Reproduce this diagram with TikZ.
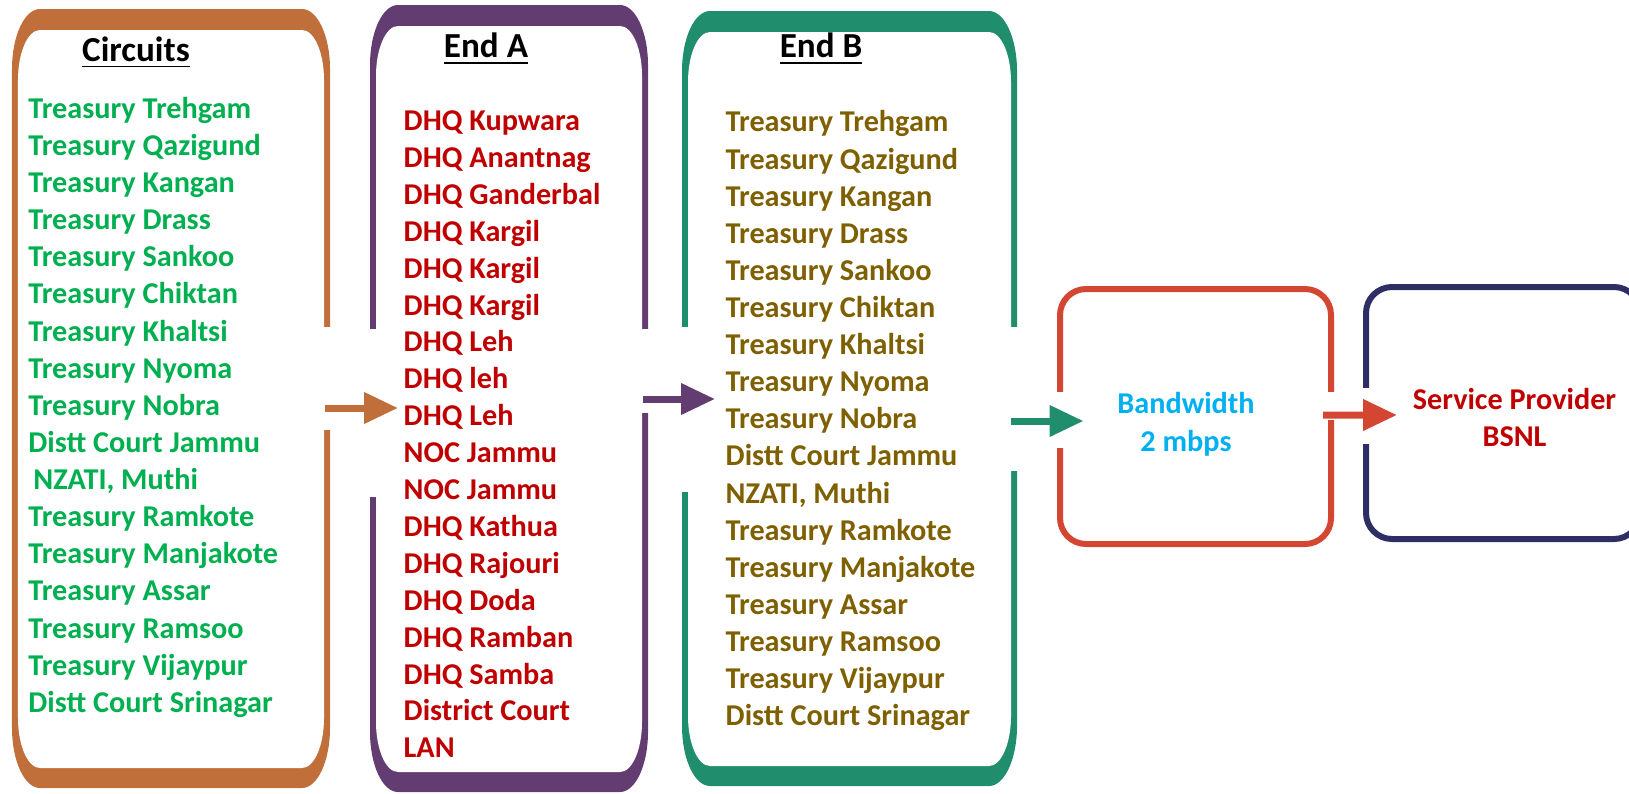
\documentclass[tikz,border=0pt]{standalone}
\usepackage{fontspec}
\setmainfont{Carlito}
\usetikzlibrary{arrows.meta,positioning,calc}
\definecolor{FrameOrange}{RGB}{192,110,58}
\definecolor{FramePurple}{RGB}{99,60,113}
\definecolor{FrameGreen}{RGB}{32,142,108}
\definecolor{FrameRed}{RGB}{210,70,50}
\definecolor{FrameNavy}{RGB}{46,46,100}
\definecolor{TextGreen}{RGB}{0,176,80}
\definecolor{TextRed}{RGB}{192,0,0}
\definecolor{TextOlive}{RGB}{127,96,0}
\definecolor{TextCyan}{RGB}{0,176,240}
\tikzset{
  tallbox/.style={inner sep=0pt,outer sep=0pt},
  boxtitle/.style={font=\fontsize{10}{12}\selectfont\bfseries,inner sep=0pt},
  itemlist/.style={inner sep=0pt,align=left,anchor=north west,
    font=\fontsize{8.6}{10.56}\selectfont\bfseries},
  smallbox/.style={draw,line width=0.6mm,rounded corners=2.6mm,inner sep=0pt,outer sep=0pt},
  boxtext/.style={inner sep=0pt,align=center,font=\fontsize{8.6}{10.8}\selectfont\bfseries},
  arrow/.style={line width=0.7mm,-{Triangle[length=3.4mm,width=3mm]}}
}
% thick framed box round a named node: #1 colour, #2 node
\newcommand{\roundframe}[2]{%
  \fill[#1] ([yshift=6mm]#2.south west) -- ([yshift=-6mm]#2.north west)
    arc[start angle=180,end angle=90,x radius=2.8mm,y radius=6mm]
    -- ([xshift=-2.8mm]#2.north east)
    arc[start angle=90,end angle=0,x radius=2.8mm,y radius=6mm]
    -- ([yshift=6mm]#2.south east)
    arc[start angle=0,end angle=-90,x radius=2.8mm,y radius=6mm]
    -- ([xshift=2.8mm]#2.south west)
    arc[start angle=270,end angle=180,x radius=2.8mm,y radius=6mm] -- cycle;
  \fill[white] ([shift={(0.6mm,7mm)}]#2.south west) -- ([shift={(0.6mm,-7.1mm)}]#2.north west)
    arc[start angle=180,end angle=90,x radius=2.2mm,y radius=5mm]
    -- ([shift={(-2.8mm,-2.1mm)}]#2.north east)
    arc[start angle=90,end angle=0,x radius=2.2mm,y radius=5mm]
    -- ([shift={(-0.6mm,7mm)}]#2.south east)
    arc[start angle=0,end angle=-90,x radius=2.2mm,y radius=5mm]
    -- ([shift={(2.8mm,2mm)}]#2.south west)
    arc[start angle=270,end angle=180,x radius=2.2mm,y radius=5mm] -- cycle;
}

\begin{document}
\begin{tikzpicture}[x=1mm,y=1mm]
  \useasboundingbox (0,0) rectangle (162.9,79.3);
  \node[tallbox,minimum width=31.8mm,minimum height=77.9mm] (circuits) at (17.1,39.45) {};
  \node[tallbox,minimum width=27.8mm,minimum height=78.7mm,right=4mm of circuits] (endA) {};
  \node[tallbox,minimum width=33.5mm,minimum height=77.5mm,right=3.4mm of endA] (endB) {};
  \roundframe{FrameOrange}{circuits}
  \roundframe{FramePurple}{endA}
  \roundframe{FrameGreen}{endB}

  \node[smallbox,draw=FrameRed,minimum width=27.1mm,minimum height=25.5mm,
    right=4.3mm of endB,yshift=-1.8mm] (bandwidth) {};
  \node[smallbox,draw=FrameNavy,minimum width=27.4mm,minimum height=25.2mm,
    right=3.5mm of bandwidth,yshift=0.35mm] (provider) {};

  % openings in the frames where the arrows pass
  \fill[white] (32.0,46.6) rectangle (33.3,36.3);
  \fill[white] (36.7,46.4) rectangle (38.3,29.6);
  \fill[white] (63.7,46.4) rectangle (65.1,38.0);
  \fill[white] (67.9,46.6) rectangle (69.5,30.1);
  \fill[white] (100.8,46.6) rectangle (102.0,32.2);
  \fill[white] (105.4,40.1) rectangle (106.7,34.5);
  \fill[white] (132.5,40.1) rectangle (133.8,37.3);
  \fill[white] (135.9,40.5) rectangle (137.3,34.9);

  \node[boxtitle] (circuitsT) at ([shift={(-3.5mm,-4.35mm)}]circuits.north) {\underline{Circuits}};
  \node[boxtitle] (endAT) at ([shift={(-2.3mm,-4.4mm)}]endA.north) {\underline{End A}};
  \node[boxtitle] (endBT) at ([shift={(-2.85mm,-3.8mm)}]endB.north) {\underline{End B}};

  \node[itemlist,text=TextGreen] (circuitsL) at ([shift={(1.57mm,-8.75mm)}]circuits.north west)
    {Treasury Trehgam\\Treasury Qazigund\\Treasury Kangan\\Treasury Drass\\Treasury Sankoo\\
     Treasury Chiktan\\Treasury Khaltsi\\Treasury Nyoma\\Treasury Nobra\\Distt Court Jammu\\
     \hspace*{0.5mm}NZATI, Muthi\\Treasury Ramkote\\Treasury Manjakote\\Treasury Assar\\
     Treasury Ramsoo\\Treasury Vijaypur\\Distt Court Srinagar};
  \node[itemlist,text=TextRed,font=\fontsize{8.6}{10.5}\selectfont\bfseries] (endAL)
    at ([shift={(3.3mm,-10.5mm)}]endA.north west)
    {DHQ Kupwara\\DHQ Anantnag\\DHQ Ganderbal\\DHQ Kargil\\DHQ Kargil\\DHQ Kargil\\
     DHQ Leh\\DHQ leh\\DHQ Leh\\NOC Jammu\\NOC Jammu\\DHQ Kathua\\DHQ Rajouri\\
     DHQ Doda\\DHQ Ramban\\DHQ Samba\\District Court\\LAN};
  \node[itemlist,text=TextOlive] (endBL) at ([shift={(4.3mm,-9.9mm)}]endB.north west)
    {Treasury Trehgam\\Treasury Qazigund\\Treasury Kangan\\Treasury Drass\\Treasury Sankoo\\
     Treasury Chiktan\\Treasury Khaltsi\\Treasury Nyoma\\Treasury Nobra\\Distt Court Jammu\\
     NZATI, Muthi\\Treasury Ramkote\\Treasury Manjakote\\Treasury Assar\\
     Treasury Ramsoo\\Treasury Vijaypur\\Distt Court Srinagar};

  \node[boxtext,text=TextCyan] (bandwidthT) at (118.6,36.9) {Bandwidth\\2 mbps};
  \node[boxtext,text=TextRed] (providerT) at (151.45,37.55) {Service Provider\\BSNL};

  \draw[arrow,FrameOrange] ([shift={(-0.5mm,-0.95mm)}]circuits.east) -- ([shift={(2.8mm,-0.95mm)}]endA.west);
  \draw[arrow,FramePurple] ([shift={(-0.5mm,-0.05mm)}]endA.east) -- ([shift={(3.3mm,-0.05mm)}]endB.west);
  \draw[arrow,FrameGreen] ([shift={(-0.6mm,-2.25mm)}]endB.east) -- ([shift={(2.35mm,-0.45mm)}]bandwidth.west);
  \draw[arrow,FrameRed] ([shift={(-0.8mm,0.15mm)}]bandwidth.east) -- ([shift={(3.1mm,-0.2mm)}]provider.west);
\end{tikzpicture}
\end{document}
